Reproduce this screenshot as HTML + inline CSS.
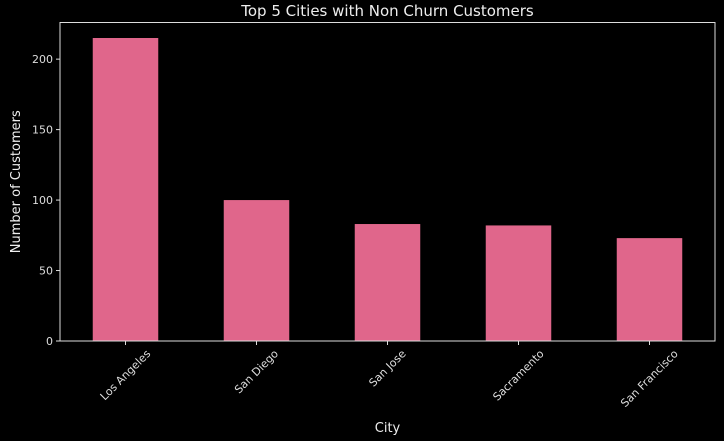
<!DOCTYPE html>
<html><head><meta charset="utf-8"><style>
body{margin:0;background:#000;}
svg{display:block;font-family:"DejaVu Sans","Liberation Sans",sans-serif;}
</style></head><body>
<svg id="c" width="724" height="441"></svg>
<script>
const categories=["Los Angeles","San Diego","San Jose","Sacramento","San Francisco"];
const values=[215,100,83,82,73];
const yTicks=[0,50,100,150,200];
const L=60,R=715,T=22.5,B=341,yMax=226;
const svg=document.getElementById('c');
const NS='http://www.w3.org/2000/svg';
function y(v){return B-(v/yMax)*(B-T);}
const step=(R-L)/categories.length;
function xc(i){return L+step*(i+0.5);}
function mk(tag,attrs,text){const e=document.createElementNS(NS,tag);for(const k in attrs)e.setAttribute(k,attrs[k]);if(text!==undefined)e.textContent=text;svg.appendChild(e);return e;}
values.forEach((v,i)=>{
 const r=mk('rect',{x:xc(i)-step*0.25,y:y(v),width:step*0.5,height:B-y(v),fill:'#e0668b'});
 
 
 mk('line',{x1:xc(i),x2:xc(i),y1:B,y2:B+4,stroke:'#ddd'});
 const t=mk('text',{x:0,y:0,fill:'#ddd','font-size':11,'text-anchor':'middle','dominant-baseline':'central'},categories[i]);
 
 
 const len=t.getComputedTextLength();
 const cy=B+7+(len+11)/(2*Math.SQRT2);
 t.setAttribute('transform',`translate(${xc(i)} ${cy}) rotate(-45)`);
});
yTicks.forEach(v=>{
 mk('line',{x1:L-4,x2:L,y1:y(v),y2:y(v),stroke:'#ddd'});
 const t=mk('text',{x:L-7,y:y(v)+4,fill:'#ddd','font-size':11,'text-anchor':'end'},v);
 
 
});
const f=mk('rect',{x:L,y:T,width:R-L,height:B-T,fill:'none',stroke:'#ddd','stroke-width':1});


const ti=mk('text',{x:(L+R)/2,y:16,fill:'#eee','font-size':15,'text-anchor':'middle'},'Top 5 Cities with Non Churn Customers');


const xt=mk('text',{x:(L+R)/2,y:432,fill:'#eee','font-size':13,'text-anchor':'middle'},'City');


const yt=mk('text',{x:20,y:(T+B)/2,fill:'#eee','font-size':13,'text-anchor':'middle',transform:`rotate(-90 20 ${(T+B)/2})`},'Number of Customers');


</script>
</body></html>
